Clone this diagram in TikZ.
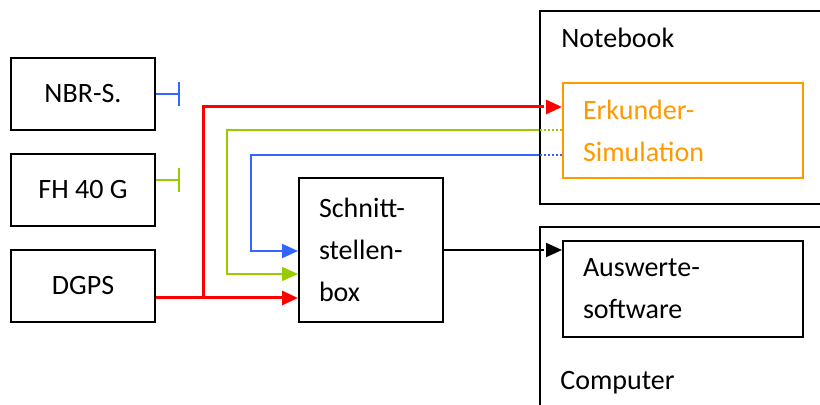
\documentclass[tikz,border=0pt]{standalone}
\usepackage{fontspec}
\setmainfont{Carlito}
\usetikzlibrary{arrows.meta}

\definecolor{sigred}{RGB}{255,0,0}
\definecolor{siggreen}{RGB}{153,204,0}
\definecolor{sigblue}{RGB}{51,102,255}
\definecolor{simorange}{RGB}{255,153,0}

\begin{document}
\begin{tikzpicture}[x=0.5pt,y=-0.5pt,
    every node/.style={font=\fontsize{14}{21}\selectfont},
    box/.style={draw,line width=1pt,minimum width=72pt,minimum height=36pt,inner sep=0pt},
    txtbox/.style={draw,line width=1pt,align=left,inner ysep=0pt},
    frame/.style={draw,line width=1pt,anchor=north west,minimum width=151pt,inner sep=0pt},
    framelabel/.style={anchor=base west,inner sep=0pt},
    tip/.style={-{Triangle[length=8pt,width=7pt]}},
    redsig/.style={draw=sigred,line width=1.5pt},
    greensig/.style={draw=siggreen,line width=1pt},
    bluesig/.style={draw=sigblue,line width=1pt},
    blacksig/.style={draw=black,line width=1pt},
    dashpat/.style={dash pattern=on 2.5pt off 1.5pt},
    dotpat/.style={dash pattern=on 1pt off 1pt}]

    \useasboundingbox (0,0) rectangle (820,405);
    \clip (0,0) rectangle (820,405);

    % sources
    \node[box] (nbr) at (83,94) {NBR-S.};
    \node[box] (fh) at (83,190) {FH 40 G};
    \node[box] (dgps) at (83,286) {DGPS};

    \node[txtbox,text width=52pt,inner xsep=10pt,minimum height=72pt] (sbox) at (371,250) {Schnitt-\\stellen-\\box};

    % notebook / computer
    \node[frame,minimum height=96.5pt] (nb) at (539,10) {};
    \node[framelabel] (nblabel) at (561,48) {Notebook};
    \node[txtbox,draw=simorange,text=simorange,text width=100pt,inner xsep=10pt,minimum height=47.5pt] (sim) at (683,130.5) {Erkunder-\\Simulation};

    \node[frame,minimum height=97pt] (comp) at (539,226) {};
    \node[framelabel] (complabel) at (560,390) {Computer};
    \node[txtbox,text width=100pt,inner xsep=10pt,minimum height=48pt] (aus) at (683,289) {Auswerte-\\software};

    % stubs
    \coordinate (bstub) at (180,94);
    \coordinate (gstub) at (180,180);
    \draw[bluesig,-{Bar[width=12pt]}] (nbr.east) -- (bstub);
    \draw[greensig,-{Bar[width=12pt]}] (fh.east |- gstub) -- (gstub);

    % rows and bends
    \coordinate (rrow) at (0,107);
    \coordinate (grow) at (0,130);
    \coordinate (brow) at (0,155);
    \coordinate (rjoin) at (203,298);
    \coordinate (gin) at (227,274);
    \coordinate (bin) at (251,251);

    % red
    \draw[redsig,tip] (dgps.east |- rjoin) -- (sbox.west |- rjoin);
    \draw[redsig] (rjoin) |- (nb.west |- rrow);
    \draw[redsig,dashpat,tip] (nb.west |- rrow) -- (sim.west |- rrow);

    % green
    \draw[greensig,dotpat] (sim.west |- grow) -- (nb.west |- grow);
    \draw[greensig,tip] (nb.west |- grow) -| (gin) -- (sbox.west |- gin);

    % blue
    \draw[bluesig,dotpat] (sim.west |- brow) -- (nb.west |- brow);
    \draw[bluesig,tip] (nb.west |- brow) -| (bin) -- (sbox.west |- bin);

    % black
    \draw[blacksig] (sbox.east) -- (comp.west |- sbox.east);
    \draw[blacksig,dashpat,tip] (comp.west |- sbox.east) -- (aus.west |- sbox.east);
\end{tikzpicture}
\end{document}
